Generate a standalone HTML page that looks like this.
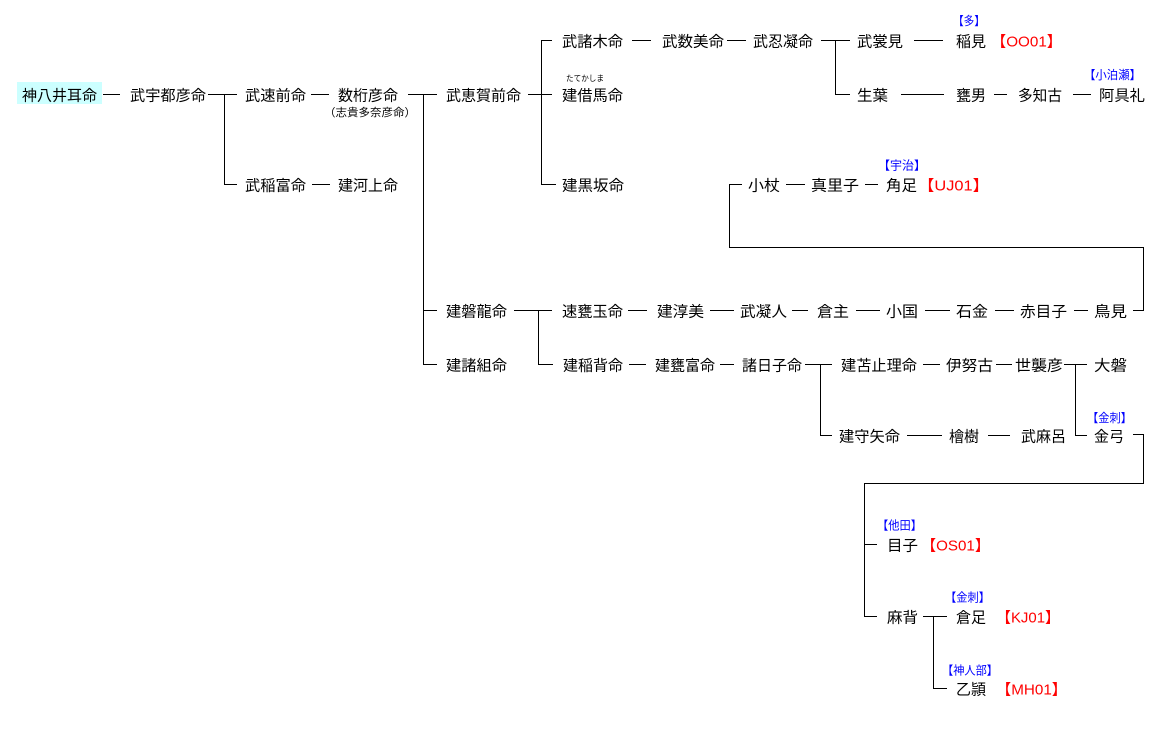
<!DOCTYPE html>
<html><head><meta charset="utf-8"><style>
html,body{margin:0;padding:0;background:#fff;}
svg{display:block;}
text{font-family:"Liberation Sans","Noto Sans CJK JP",sans-serif;}
.n{font-size:15px;fill:#000;}
.r{font-size:15px;fill:#ff0000;}
.b{font-size:12px;fill:#0000ff;}
</style></head><body>
<svg width="1149" height="729" viewBox="0 0 1149 729" xmlns="http://www.w3.org/2000/svg">
<rect x="0" y="0" width="1149" height="729" fill="#fff"/>
<rect x="17" y="82" width="85" height="22" fill="#ccffff"/>
<path fill="none" stroke="#000" stroke-width="1" shape-rendering="crispEdges" d="
M103 94.5H120 M208 94.5H237 M224.5 94V184 M224 184.5H237 M311 94.5H329 M408 94.5H437 M423.5 94V364 M423 310.5H437 M423 364.5H437
M528 94.5H552 M541.5 40V184 M541 40.5H552 M541 184.5H556 M835.5 40V94 M835 94.5H850 M901 94.5H944 M994 94.5H1007 M1073 94.5H1091
M632 40.5H651 M727 40.5H746 M821 40.5H850 M914 40.5H943
M312 184.5H330 M729 184.5H742 M729.5 184V247 M729 247.5H1144 M1143.5 247V310 M1133 310.5H1144 M786 184.5H805 M865 184.5H878
M514 310.5H552 M538.5 310V364 M538 364.5H553 M628 310.5H647 M710 310.5H734 M792 310.5H808 M856 310.5H880 M925 310.5H950 M995 310.5H1014 M1074 310.5H1088
M629 364.5H646 M720 364.5H734 M805 364.5H832 M820.5 364V435 M820 435.5H832 M923 364.5H940 M996 364.5H1012 M1064 364.5H1087 M1075.5 364V435 M1075 435.5H1087
M907 435.5H942 M988 435.5H1010 M1133 434.5H1144 M1143.5 434V483 M864 483.5H1144 M864.5 483V617 M864 544.5H877 M864 616.5H877
M923 616.5H947 M933.5 616V688 M933 688.5H947"/>

<g class="n" lengthAdjust="spacingAndGlyphs">
<text x="562" y="46.5" textLength="61" lengthAdjust="spacingAndGlyphs">武諸木命</text>
<text x="662" y="46.5" textLength="62" lengthAdjust="spacingAndGlyphs">武数美命</text>
<text x="753" y="46.5" textLength="60" lengthAdjust="spacingAndGlyphs">武忍凝命</text>
<text x="857" y="46.5" textLength="46" lengthAdjust="spacingAndGlyphs">武裳見</text>
<text x="956" y="46.5" textLength="30" lengthAdjust="spacingAndGlyphs">稲見</text>

<text x="22" y="100.5" textLength="75" lengthAdjust="spacingAndGlyphs">神八井耳命</text>
<text x="130" y="100.5" textLength="76" lengthAdjust="spacingAndGlyphs">武宇都彦命</text>
<text x="245" y="100.5" textLength="61" lengthAdjust="spacingAndGlyphs">武速前命</text>
<text x="338" y="100.5" textLength="60" lengthAdjust="spacingAndGlyphs">数桁彦命</text>
<text x="446" y="100.5" textLength="75" lengthAdjust="spacingAndGlyphs">武恵賀前命</text>
<text x="562" y="100.5" textLength="61" lengthAdjust="spacingAndGlyphs">建借馬命</text>
<text x="857" y="100.5" textLength="31" lengthAdjust="spacingAndGlyphs">生葉</text>
<text x="956" y="100.5" textLength="30" lengthAdjust="spacingAndGlyphs">甕男</text>
<text x="1018" y="100.5" textLength="44" lengthAdjust="spacingAndGlyphs">多知古</text>
<text x="1099" y="100.5" textLength="46" lengthAdjust="spacingAndGlyphs">阿具礼</text>

<text x="245" y="190.5" textLength="61" lengthAdjust="spacingAndGlyphs">武稲富命</text>
<text x="338" y="190.5" textLength="60" lengthAdjust="spacingAndGlyphs">建河上命</text>
<text x="562" y="190.5" textLength="62" lengthAdjust="spacingAndGlyphs">建黒坂命</text>
<text x="748" y="190.5" textLength="32" lengthAdjust="spacingAndGlyphs">小杖</text>
<text x="811" y="190.5" textLength="48" lengthAdjust="spacingAndGlyphs">真里子</text>
<text x="886" y="190.5" textLength="31" lengthAdjust="spacingAndGlyphs">角足</text>

<text x="446" y="316.5" textLength="61" lengthAdjust="spacingAndGlyphs">建磐龍命</text>
<text x="562" y="316.5" textLength="61" lengthAdjust="spacingAndGlyphs">速甕玉命</text>
<text x="657" y="316.5" textLength="47" lengthAdjust="spacingAndGlyphs">建淳美</text>
<text x="740" y="316.5" textLength="47" lengthAdjust="spacingAndGlyphs">武凝人</text>
<text x="817" y="316.5" textLength="32" lengthAdjust="spacingAndGlyphs">倉主</text>
<text x="886" y="316.5" textLength="32" lengthAdjust="spacingAndGlyphs">小国</text>
<text x="956" y="316.5" textLength="32" lengthAdjust="spacingAndGlyphs">石金</text>
<text x="1020" y="316.5" textLength="47" lengthAdjust="spacingAndGlyphs">赤目子</text>
<text x="1094" y="316.5" textLength="33" lengthAdjust="spacingAndGlyphs">鳥見</text>

<text x="446" y="370.5" textLength="61" lengthAdjust="spacingAndGlyphs">建諸組命</text>
<text x="563" y="370.5" textLength="60" lengthAdjust="spacingAndGlyphs">建稲背命</text>
<text x="655" y="370.5" textLength="60" lengthAdjust="spacingAndGlyphs">建甕富命</text>
<text x="742" y="370.5" textLength="60" lengthAdjust="spacingAndGlyphs">諸日子命</text>
<text x="841" y="370.5" textLength="76" lengthAdjust="spacingAndGlyphs">建苫止理命</text>
<text x="946" y="370.5" textLength="47" lengthAdjust="spacingAndGlyphs">伊努古</text>
<text x="1015" y="370.5" textLength="48" lengthAdjust="spacingAndGlyphs">世襲彦</text>
<text x="1094" y="370.5" textLength="33" lengthAdjust="spacingAndGlyphs">大磐</text>

<text x="839" y="441.5" textLength="61" lengthAdjust="spacingAndGlyphs">建守矢命</text>
<text x="949" y="441.5" textLength="30" lengthAdjust="spacingAndGlyphs">檜樹</text>
<text x="1021" y="441.5" textLength="45" lengthAdjust="spacingAndGlyphs">武麻呂</text>
<text x="1094" y="441.5" textLength="30" lengthAdjust="spacingAndGlyphs">金弓</text>

<text x="887" y="550.5" textLength="31" lengthAdjust="spacingAndGlyphs">目子</text>
<text x="887" y="622.5" textLength="31" lengthAdjust="spacingAndGlyphs">麻背</text>
<text x="956" y="622.5" textLength="30" lengthAdjust="spacingAndGlyphs">倉足</text>
<text x="956" y="694.5" textLength="30" lengthAdjust="spacingAndGlyphs">乙頴</text>
</g>

<g class="r">
<text x="991" y="46.5" textLength="71" lengthAdjust="spacingAndGlyphs">【OO01】</text>
<text x="918" y="190.5" textLength="71" lengthAdjust="spacingAndGlyphs">【UJ01】</text>
<text x="921" y="550.5" textLength="69" lengthAdjust="spacingAndGlyphs">【OS01】</text>
<text x="996" y="622.5" textLength="64" lengthAdjust="spacingAndGlyphs">【KJ01】</text>
<text x="996" y="694.5" textLength="71" lengthAdjust="spacingAndGlyphs">【MH01】</text>
</g>

<g class="b">
<text x="953" y="25" textLength="32" lengthAdjust="spacingAndGlyphs">【多】</text>
<text x="1084" y="79" textLength="57" lengthAdjust="spacingAndGlyphs">【小泊瀬】</text>
<text x="878" y="169.5" textLength="48" lengthAdjust="spacingAndGlyphs">【宇治】</text>
<text x="1087" y="422" textLength="45" lengthAdjust="spacingAndGlyphs">【金刺】</text>
<text x="877" y="529.5" textLength="45" lengthAdjust="spacingAndGlyphs">【他田】</text>
<text x="945" y="601.5" textLength="45" lengthAdjust="spacingAndGlyphs">【金刺】</text>
<text x="942" y="674.5" textLength="56" lengthAdjust="spacingAndGlyphs">【神人部】</text>
</g>

<text x="324" y="116" font-size="11" fill="#000" textLength="92" lengthAdjust="spacingAndGlyphs">（志貴多奈彦命）</text>
<text x="566" y="81" font-size="8" fill="#000" textLength="38" lengthAdjust="spacingAndGlyphs">たてかしま</text>
</svg>
</body></html>
